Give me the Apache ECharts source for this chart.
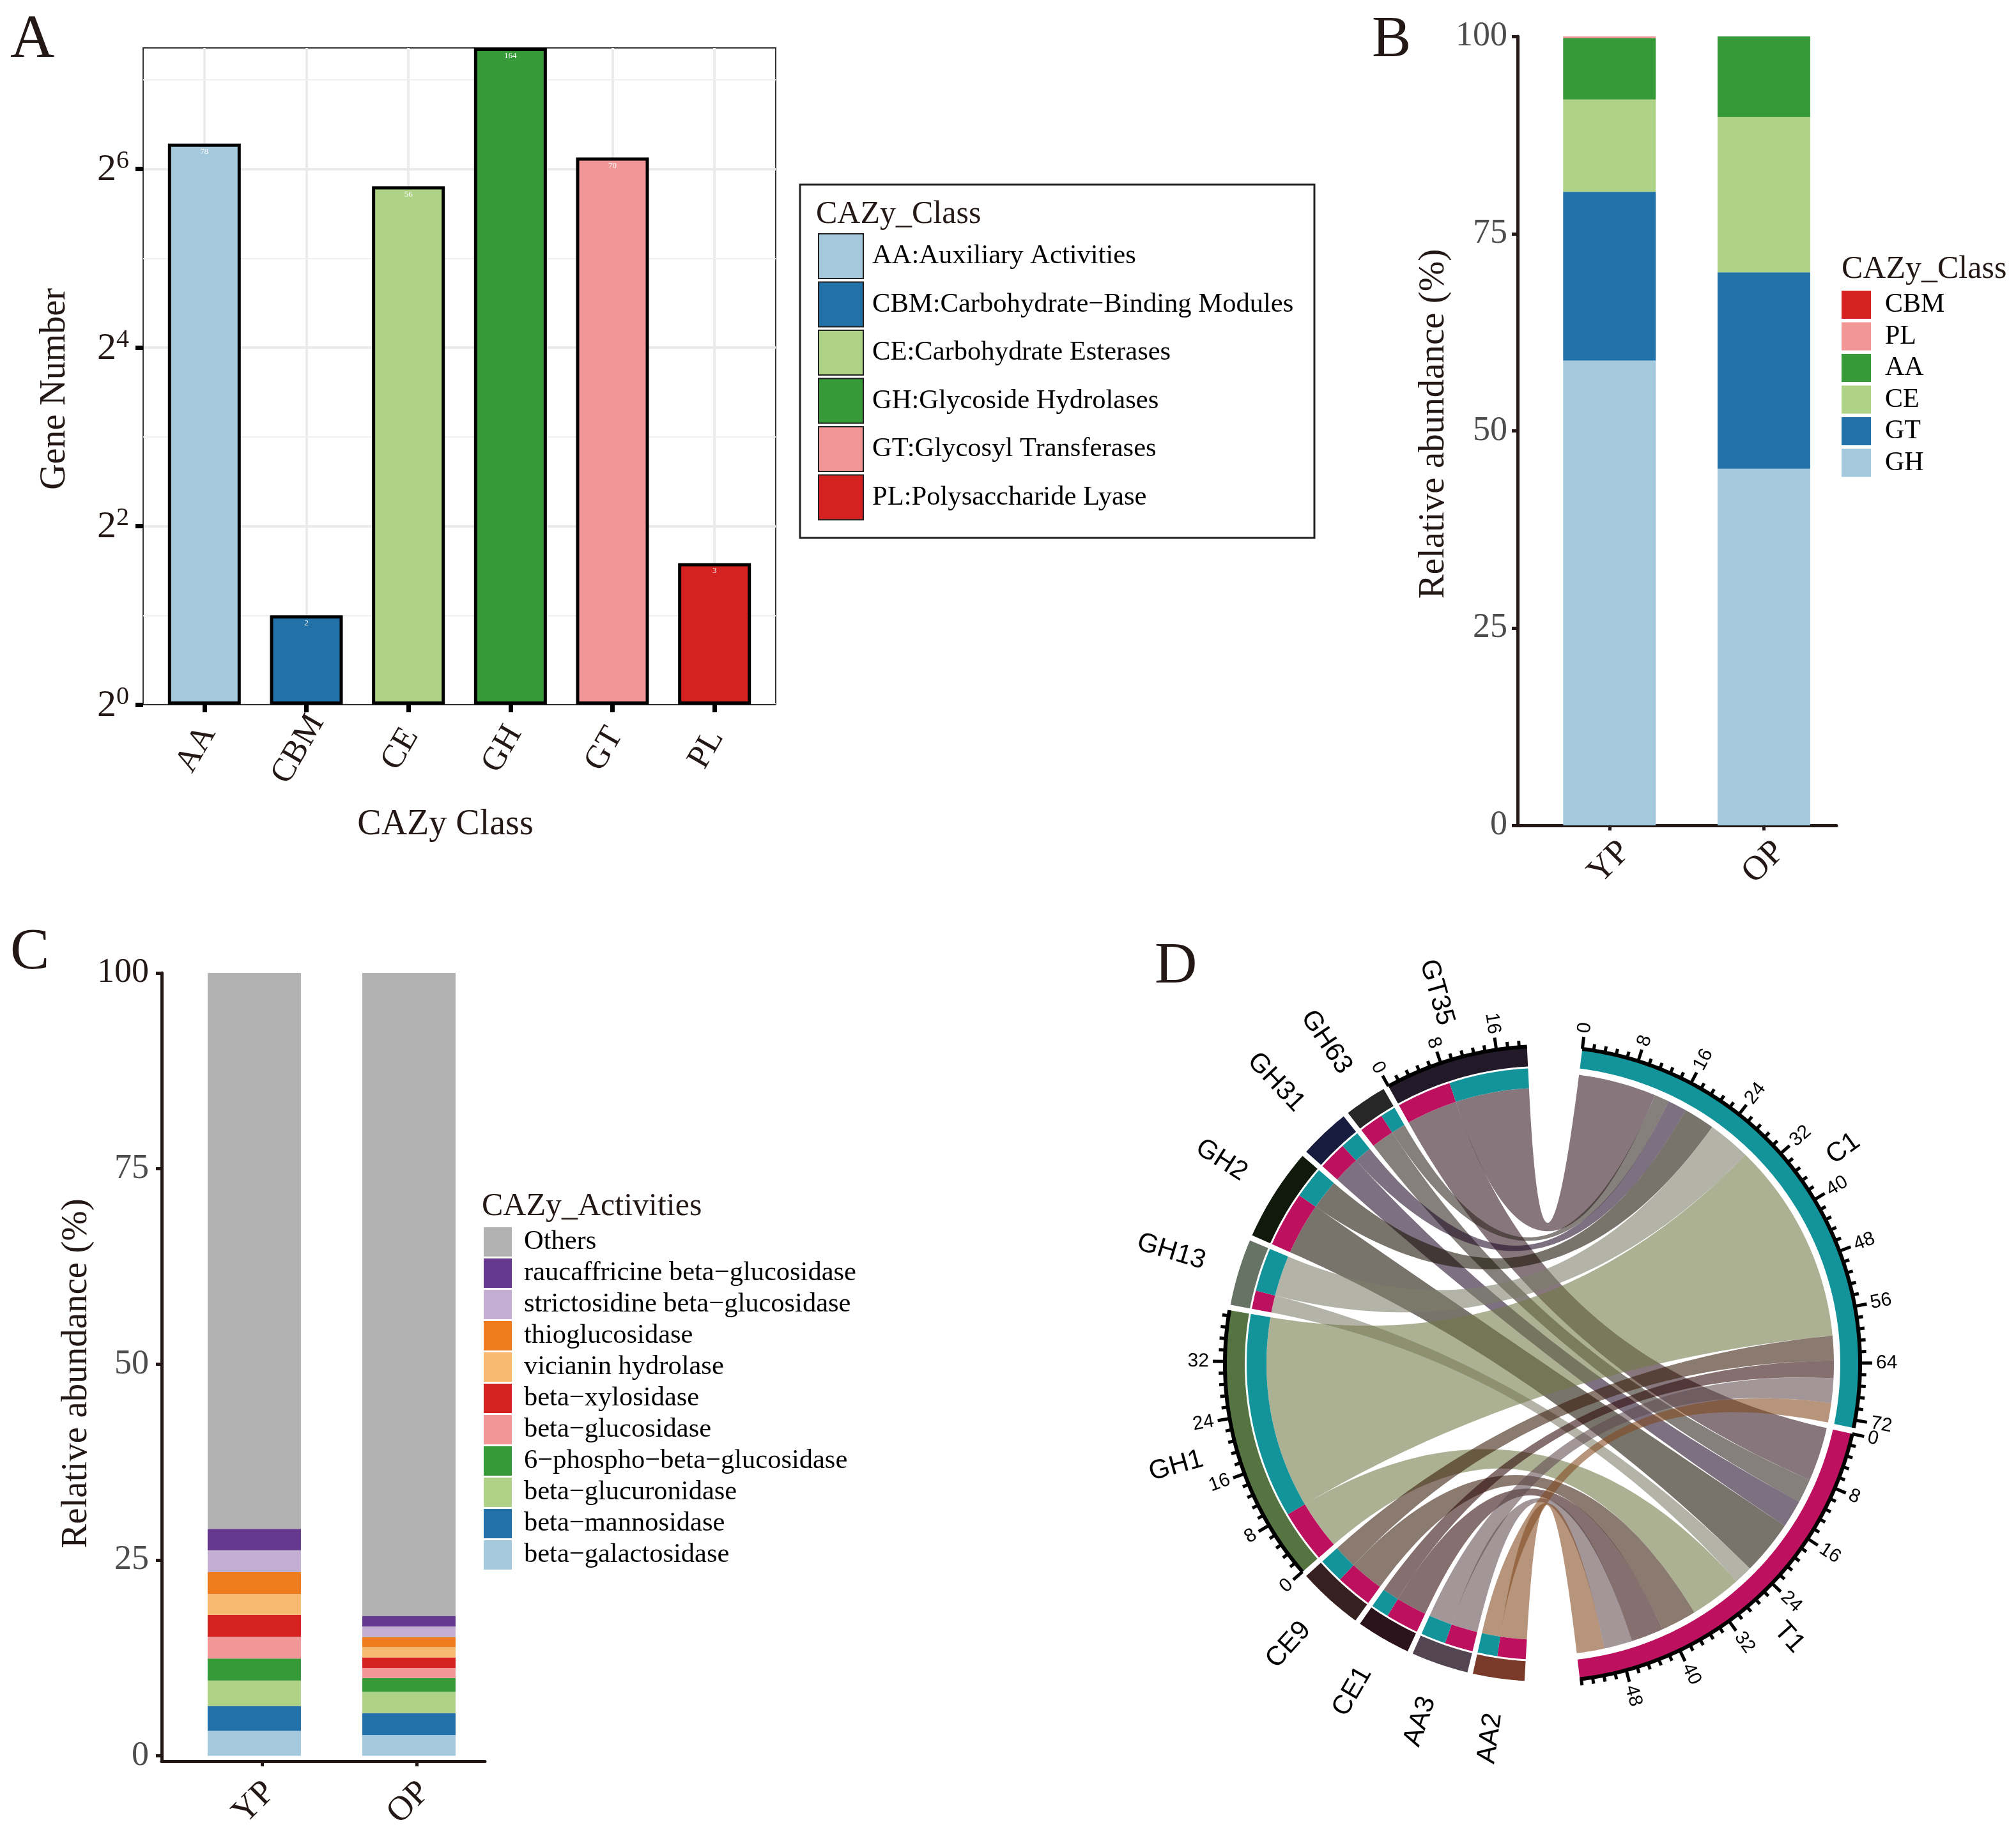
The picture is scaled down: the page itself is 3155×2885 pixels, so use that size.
<!DOCTYPE html>
<html><head><meta charset="utf-8">
<style>html,body{margin:0;padding:0;background:#fff}#c{width:3155px;height:2885px}</style>
<script src="https://cdn.jsdelivr.net/npm/echarts@6/dist/echarts.min.js"></script>
</head><body><div id="c"></div>
<script>
// ---------- Panel A ----------
const classA = ['AA','CBM','CE','GH','GT','PL'];
const classNamesA = ['AA:Auxiliary Activities','CBM:Carbohydrate\u2212Binding Modules','CE:Carbohydrate Esterases','GH:Glycoside Hydrolases','GT:Glycosyl Transferases','PL:Polysaccharide Lyase'];
const geneCounts = [78,2,56,164,70,3];
const coloursA = ['#a4c9dd','#2272a9','#aed387','#369a39','#f29797','#d5211f'];
const logTicksA = [1,4,16,64];
const logMinorA = [2,8,32,128];
// ---------- Panel B ----------
const samples = ['YP','OP'];
const classB = ['GH','GT','CE','AA','PL','CBM'];
const abundanceYP = [58.9,21.4,11.7,7.8,0.2,0];
const abundanceOP = [45.2,24.9,19.7,10.2,0,0];
const coloursB = ['#a4c9dd','#2272a9','#aed387','#369a39','#f29797','#d5211f'];
const pctTicks = [0,25,50,75,100];
// ---------- Panel C ----------
const activities = ['beta\u2212galactosidase','beta\u2212mannosidase','beta\u2212glucuronidase','6\u2212phospho\u2212beta\u2212glucosidase','beta\u2212glucosidase','beta\u2212xylosidase','vicianin hydrolase','thioglucosidase','strictosidine beta\u2212glucosidase','raucaffricine beta\u2212glucosidase','Others'];
const activityYP = [3.18,3.18,3.25,2.8,2.8,2.8,2.65,2.8,2.8,2.73,71.0];
const activityOP = [2.65,2.8,2.73,1.74,1.29,1.36,1.29,1.29,1.36,1.36,82.13];
const coloursC = ['#a4c9dd','#2272a9','#aed387','#369a39','#f29797','#d5211f','#f6b96f','#ef7c1c','#c4afd3','#653a8e','#b2b2b2'];
// ---------- Panel D ----------
const partners = ['AA2','AA3','CE1','CE9','GH1','GH13','GH2','GH31','GH63','GT35'];
const linksToT1 = [4.3,4.3,5,5.5,8,2.8,8.4,4.3,3.7,8.3];
const linksToC1 = [3,3.8,2.7,3.8,31.2,6.6,4.8,2.9,2.3,12];
const partnerColours = ['#7a3a2a','#544552','#2c131b','#372020','#567342','#667365','#10190b','#171b3e','#272727','#221a28'];
const linkColours = ['#81481d','#5f4a4f','#2d0907','#371a09','#727947','#7c7e67','#181000','#1f0924','#2d241c','#30151d'];
const colourC1 = '#12949a', colourT1 = '#bd1160';
const tickedSectors = ['C1','T1','GH1','GT35'];

const SERIF = 'Liberation Serif', SANS = 'Liberation Sans';
const INK = '#231815', GREY = '#4d4d4d';

// ---------- chord layout, derived from the link values ----------
const CX = 2414, CY = 2135, R_OUT = 497, R_OUT_IN = 466, R_SEG = 463, R_SEG_IN = 432, R_LINK = 456;
const sum = a => a.reduce((x, y) => x + y, 0);
const GAP_BIG = 10, GAP = 1.0, GAP_CT = 1.1, START = 7.2;
const total = sum(linksToC1) + sum(linksToT1);
const K = (360 - 2 * GAP_BIG - GAP_CT - (partners.length - 1) * GAP) / (2 * total);
const sect = {};
let ang = START;
sect.C1 = [ang, ang + sum(linksToC1) * K]; ang = sect.C1[1] + GAP_CT;
sect.T1 = [ang, ang + sum(linksToT1) * K]; ang = sect.T1[1] + GAP_BIG;
partners.forEach((p, i) => { const w = (linksToT1[i] + linksToC1[i]) * K; sect[p] = [ang, ang + w]; ang += w + GAP; });

const segs = [], links = [];
let aC = sect.C1[0], aT = sect.T1[0];
for (let i = partners.length - 1; i >= 0; i--) {
  const s = sect[partners[i]], mid = s[0] + linksToT1[i] * K;
  const nT = aT + linksToT1[i] * K, nC = aC + linksToC1[i] * K;
  links.push({ a: [aC, nC], b: [mid, s[1]], colour: linkColours[i] });
  links.push({ a: [aT, nT], b: [s[0], mid], colour: linkColours[i] });
  segs.push({ from: s[0], to: mid, colour: colourT1 }, { from: mid, to: s[1], colour: colourC1 });
  aT = nT; aC = nC;
}
const pol = (deg, r) => { const t = deg * Math.PI / 180; return [CX + r * Math.sin(t), CY - r * Math.cos(t)]; };
const arc = (a, b, r) => { const n = Math.max(2, Math.ceil(Math.abs(b - a) * 2)), o = []; for (let i = 0; i <= n; i++) o.push(pol(a + (b - a) * i / n, r)); return o; };
const quad = (p, q) => { const o = []; for (let i = 1; i < 60; i++) { const t = i / 60, u = 1 - t; o.push([u * u * p[0] + 2 * u * t * CX + t * t * q[0], u * u * p[1] + 2 * u * t * CY + t * t * q[1]]); } return o; };
const band = (a, b, r0, r1) => arc(a, b, r1).concat(arc(b, a, r0));
const rgba = (h, al) => `rgba(${parseInt(h.slice(1,3),16)},${parseInt(h.slice(3,5),16)},${parseInt(h.slice(5,7),16)},${al})`;
const hexOf = n => n === 'C1' ? colourC1 : n === 'T1' ? colourT1 : partnerColours[partners.indexOf(n)];
const allSect = ['C1','T1'].concat(partners);
const radialText = (deg, r, text, size) => {
  const right = deg % 360 < 180, p = pol(deg, r);
  return { type: 'text', x: p[0], y: p[1], rotation: ((right ? 90 - deg : 270 - deg) * Math.PI) / 180,
    style: { text, fontFamily: SANS, fontSize: size, fill: '#000', align: right ? 'left' : 'right', verticalAlign: 'middle' } };
};
const tickRows = [];
tickedSectors.forEach(s => {
  const units = (sect[s][1] - sect[s][0]) / K;
  for (let i = 0; i * 1.6 <= units; i++) tickRows.push({ s, v: i * 1.6, major: i % 5 === 0, label: String(i * 8 / 5) });
});
const none = { coordinateSystem: 'none', silent: true, clip: false };
const chordSeries = [
  Object.assign({ type: 'custom', name: 'links', z: 3, data: links.map((_, i) => [i]), renderItem: (p) => {
    const l = links[p.dataIndex];
    const pts = arc(l.a[0], l.a[1], R_LINK).concat(quad(pol(l.a[1], R_LINK), pol(l.b[0], R_SEG_IN)), arc(l.b[0], l.b[1], R_SEG_IN), quad(pol(l.b[1], R_SEG_IN), pol(l.a[0], R_LINK)));
    return { type: 'polygon', shape: { points: pts }, style: { fill: rgba(l.colour, 0.58) } };
  } }, none),
  Object.assign({ type: 'custom', name: 'sectors', z: 4, data: allSect.map((_, i) => [i]), renderItem: (p) => {
    const n = allSect[p.dataIndex], s = sect[n];
    const deg = (s[0] + s[1]) / 2;
    return { type: 'group', children: [
      { type: 'polygon', shape: { points: band(s[0], s[1], R_OUT_IN, R_OUT) }, style: { fill: hexOf(n) } },
      radialText(deg, 552, n, 42)
    ] };
  } }, none),
  Object.assign({ type: 'custom', name: 'segments', z: 4, data: segs.map((_, i) => [i]), renderItem: (p) => {
    const g = segs[p.dataIndex];
    return { type: 'polygon', shape: { points: band(g.from, g.to, R_SEG_IN, R_SEG) }, style: { fill: g.colour } };
  } }, none),
  Object.assign({ type: 'custom', name: 'axisArcs', z: 5, data: tickedSectors.map((_, i) => [i]), renderItem: (p) => {
    const s = sect[tickedSectors[p.dataIndex]];
    return { type: 'polyline', shape: { points: arc(s[0], s[1], R_OUT) }, style: { stroke: '#000', lineWidth: 6, fill: null } };
  } }, none),
  Object.assign({ type: 'custom', name: 'ticks', z: 5, data: tickRows.map((_, i) => [i]), renderItem: (p) => {
    const t = tickRows[p.dataIndex], deg = sect[t.s][0] + t.v * K;
    const a = pol(deg, R_OUT), b = pol(deg, R_OUT + (t.major ? 19 : 10));
    const kids = [{ type: 'line', shape: { x1: a[0], y1: a[1], x2: b[0], y2: b[1] }, style: { stroke: '#000', lineWidth: 5 } }];
    if (t.major) kids.push(radialText(deg, R_OUT + 25, t.label, 30));
    return { type: 'group', children: kids };
  } }, none)
];

// ---------- bars ----------
const seriesA = classA.map((c, i) => ({
  type: 'bar', name: classNamesA[i], xAxisIndex: 0, yAxisIndex: 0, barWidth: 114, barGap: '-100%', z: 2,
  data: [[i, geneCounts[i]]],
  itemStyle: { color: coloursA[i], borderColor: '#000', borderWidth: 5 },
  label: { show: true, position: 'insideTop', distance: 6, color: '#fff', fontSize: 13, fontFamily: SERIF, formatter: p => p.value[1] }
}));
const minorA = { type: 'line', name: 'minor', xAxisIndex: 0, yAxisIndex: 0, data: [], silent: true,
  markLine: { silent: true, symbol: 'none', z: 1, animation: false, label: { show: false }, lineStyle: { color: '#f0f0f0', width: 2, type: 'solid' }, data: logMinorA.map(v => ({ yAxis: v })) } };
const seriesB = classB.map((c, i) => ({
  type: 'bar', name: c, stack: 'b', xAxisIndex: 1, yAxisIndex: 1, barWidth: 145, encode: { x: 1, y: 0 },
  data: [[abundanceYP[i], 0], [abundanceOP[i], 1]], itemStyle: { color: coloursB[i] }
}));
const seriesC = activities.map((c, i) => ({
  type: 'bar', name: c, stack: 'c', xAxisIndex: 2, yAxisIndex: 2, barWidth: 146, encode: { x: 1, y: 0 },
  data: [[activityYP[i], 0], [activityOP[i], 1]], itemStyle: { color: coloursC[i] }
}));

const label = (x, y, text, size, colour, font) => ({ type: 'text', x, y, silent: true,
  style: { text, fontFamily: font || SERIF, fontSize: size, fill: colour || '#000', align: 'left', verticalAlign: 'middle' } });
const sampleAxis = (grid, lo, hi, margin, tickVals) => ({
  type: 'value', gridIndex: grid, min: lo, max: hi, splitLine: { show: false },
  axisLine: { onZero: false, lineStyle: { color: INK, width: 5 } },
  axisTick: { length: 8, lineStyle: { color: INK, width: 5 }, customValues: tickVals },
  axisLabel: { customValues: [0, 1], formatter: v => samples[v] || '', rotate: 45, align: 'center', verticalAlign: 'middle', margin, fontFamily: SERIF, fontSize: 54, color: INK }
});
const pctAxis = (grid, lo, margin, gap, padding, dark) => ({
  type: 'value', gridIndex: grid, min: lo, max: 100, splitLine: { show: false },
  name: 'Relative abundance (%)', nameLocation: 'middle', nameGap: gap, nameTextStyle: { fontFamily: SERIF, fontSize: 57, color: INK, padding },
  axisLine: { onZero: false, lineStyle: { color: INK, width: 5 } },
  axisTick: { length: 9, lineStyle: { color: INK, width: 5 }, customValues: pctTicks },
  axisLabel: { customValues: pctTicks, margin, fontFamily: SERIF, fontSize: 54, color: GREY,
    formatter: v => (dark && v === 100 ? '{d|100}' : String(v)), rich: { d: { fontFamily: SERIF, fontSize: 54, color: INK } } }
});

const option = {
  backgroundColor: '#fff', animation: false,
  grid: [
    { left: 224, top: 75, width: 990, height: 1028, show: true, borderColor: '#333', borderWidth: 2, backgroundColor: '#fff' },
    { left: 2375, top: 57, width: 499, height: 1235 },
    { left: 253, top: 1523, width: 506, height: 1234 }
  ],
  xAxis: [
    { type: 'value', gridIndex: 0, min: -0.6, max: 5.6, name: 'CAZy Class', nameLocation: 'middle', nameGap: 160,
      nameTextStyle: { fontFamily: SERIF, fontSize: 56, color: INK, padding: [0, 44, 0, 0] },
      axisLine: { show: true, onZero: false, lineStyle: { color: '#333', width: 2 } },
      axisTick: { length: 12, lineStyle: { color: '#000', width: 7 }, customValues: classA.map((_, i) => i) },
      splitLine: { show: true, lineStyle: { color: '#ebebeb', width: 4 } },
      axisLabel: { customValues: classA.map((_, i) => i), formatter: v => classA[v] || '', rotate: 60, align: 'center', verticalAlign: 'middle', margin: 48, padding: [0, 50, 0, 0], fontFamily: SERIF, fontSize: 52, color: INK } },
    sampleAxis(1, -0.595, 1.47, 58, [0, 1]),
    sampleAxis(2, -0.599, 1.492, 65, [0.05, 1.05])
  ],
  yAxis: [
    { type: 'log', logBase: 2, gridIndex: 0, min: 1, max: 164, name: 'Gene Number', nameLocation: 'middle', nameGap: 110,
      nameTextStyle: { fontFamily: SERIF, fontSize: 56, color: INK, padding: [0, 40, 0, 0] },
      axisLine: { show: true, onZero: false, lineStyle: { color: '#333', width: 2 } },
      axisTick: { length: 12, lineStyle: { color: '#000', width: 7 }, customValues: logTicksA },
      splitLine: { show: true, lineStyle: { color: '#ebebeb', width: 4 } },
      axisLabel: { customValues: logTicksA, margin: 22, formatter: v => `{b|2}{s|${Math.round(Math.log2(v))}}`,
        rich: { b: { fontFamily: SERIF, fontSize: 60, color: INK, verticalAlign: 'bottom' }, s: { fontFamily: SERIF, fontSize: 40, color: INK, verticalAlign: 'top', padding: [0, 0, 24, 0] } } } },
    pctAxis(1, 0, 16, 102, [0, 0, 0, 22], false),
    pctAxis(2, -0.7, 20, 102, [0, 20, 0, 0], true)
  ],
  legend: [
    { left: 1280, top: 365, orient: 'vertical', itemWidth: 70, itemHeight: 70, itemGap: 3.5, selectedMode: false, icon: 'rect', padding: 0,
      data: classNamesA, itemStyle: { borderWidth: 2, borderColor: '#222' },
      textStyle: { fontFamily: SERIF, fontSize: 42.6, color: '#000', padding: [0, 0, 0, 9] } },
    { left: 2882, top: 455, orient: 'vertical', itemWidth: 46, itemHeight: 44, itemGap: 5.5, selectedMode: false, icon: 'rect', padding: 0,
      data: classB.slice().reverse(),
      textStyle: { fontFamily: SERIF, fontSize: 42, color: '#000', padding: [0, 0, 0, 17] } },
    { left: 757, top: 1921, orient: 'vertical', itemWidth: 44, itemHeight: 46, itemGap: 3, selectedMode: false, icon: 'rect', padding: 0,
      data: activities.slice().reverse(),
      textStyle: { fontFamily: SERIF, fontSize: 42.5, color: '#000', padding: [0, 0, 0, 14] } }
  ],
  graphic: { elements: [
    { type: 'rect', silent: true, shape: { x: 1252, y: 289, width: 805, height: 553 }, style: { fill: 'none', stroke: '#222', lineWidth: 3 } },
    label(16, 64, 'A', 96, INK), label(2147, 64, 'B', 92, INK), label(16, 1492, 'C', 92, INK), label(1807, 1514, 'D', 92, INK),
    label(1277, 336, 'CAZy_Class', 50, INK), label(2882, 422, 'CAZy_Class', 50, INK), label(754, 1889, 'CAZy_Activities', 50, INK)
  ] },
  series: [minorA].concat(seriesA, seriesB, seriesC, chordSeries)
};
const chart = echarts.init(document.getElementById('c'), null, { width: 3155, height: 2885 });
chart.setOption(option);
</script></body></html>
